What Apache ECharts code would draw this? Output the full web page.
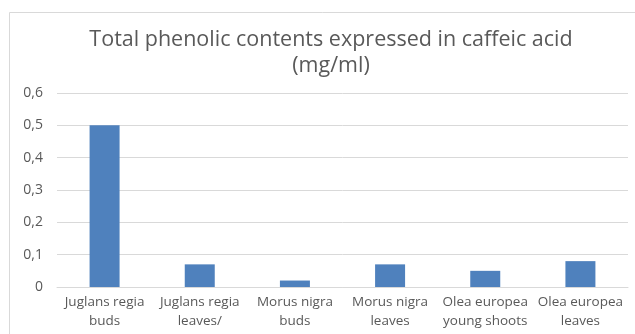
<!DOCTYPE html>
<html>
<head>
<meta charset="utf-8">
<script src="https://cdn.jsdelivr.net/npm/echarts@6/dist/echarts.min.js"></script>
<style>
  html, body { margin: 0; padding: 0; background: #fff; }
  #chart { width: 635px; height: 334px; }
</style>
</head>
<body>
<div id="chart"></div>
<script>
// Plant extracts and their total phenolic content (mg/ml caffeic acid equivalents)
const categories = [
  'Juglans regia\nbuds',
  'Juglans regia\nleaves/',
  'Morus nigra\nbuds',
  'Morus nigra\nleaves',
  'Olea europea\nyoung shoots',
  'Olea europea\nleaves'
];
const phenolicValues = [0.5, 0.07, 0.02, 0.07, 0.05, 0.08];
const yTicks = [0, 0.1, 0.2, 0.3, 0.4, 0.5, 0.6];

const chart = echarts.init(document.getElementById('chart'), null, { renderer: 'canvas' });
const textColor = '#595959';
const fontFamily = '"Open Sans", "Liberation Sans", sans-serif';

chart.setOption({
  animation: false,
  backgroundColor: '#fff',
  title: {
    text: 'Total phenolic contents expressed in caffeic acid\n(mg/ml)',
    left: 326,
    textAlign: 'center',
    top: 22,
    textStyle: {
      color: textColor,
      fontFamily: fontFamily,
      fontWeight: 'normal',
      fontSize: 21.5,
      lineHeight: 26
    }
  },
  graphic: [{
    type: 'rect',
    shape: { x: 9.5, y: 12.5, width: 700, height: 400 },
    style: { fill: 'none', stroke: '#d9d9d9', lineWidth: 1 },
    silent: true
  }],
  grid: { left: 57, right: 7, top: 93, bottom: 47, containLabel: false },
  xAxis: {
    type: 'category',
    data: categories,
    axisLine: { show: true, lineStyle: { color: '#d9d9d9' } },
    axisTick: { show: false },
    axisLabel: {
      color: textColor,
      fontFamily: fontFamily,
      fontSize: 13.5,
      lineHeight: 19,
      margin: 6,
      interval: 0
    }
  },
  yAxis: {
    type: 'value',
    min: 0,
    max: 0.6,
    interval: 0.1,
    axisLine: { show: false },
    axisTick: { show: false },
    splitLine: { lineStyle: { color: '#d9d9d9', width: 1 } },
    axisLabel: {
      color: textColor,
      fontFamily: fontFamily,
      fontSize: 14,
      margin: 14,
      formatter: function (v) {
        const t = yTicks.find(x => Math.abs(x - v) < 1e-9);
        const val = t === undefined ? v : t;
        return val === 0 ? '0' : String(val).replace('.', ',');
      }
    }
  },
  series: [{
    type: 'bar',
    data: phenolicValues,
    barWidth: 30,
    itemStyle: { color: '#4f81bd' }
  }]
});
</script>
</body>
</html>
